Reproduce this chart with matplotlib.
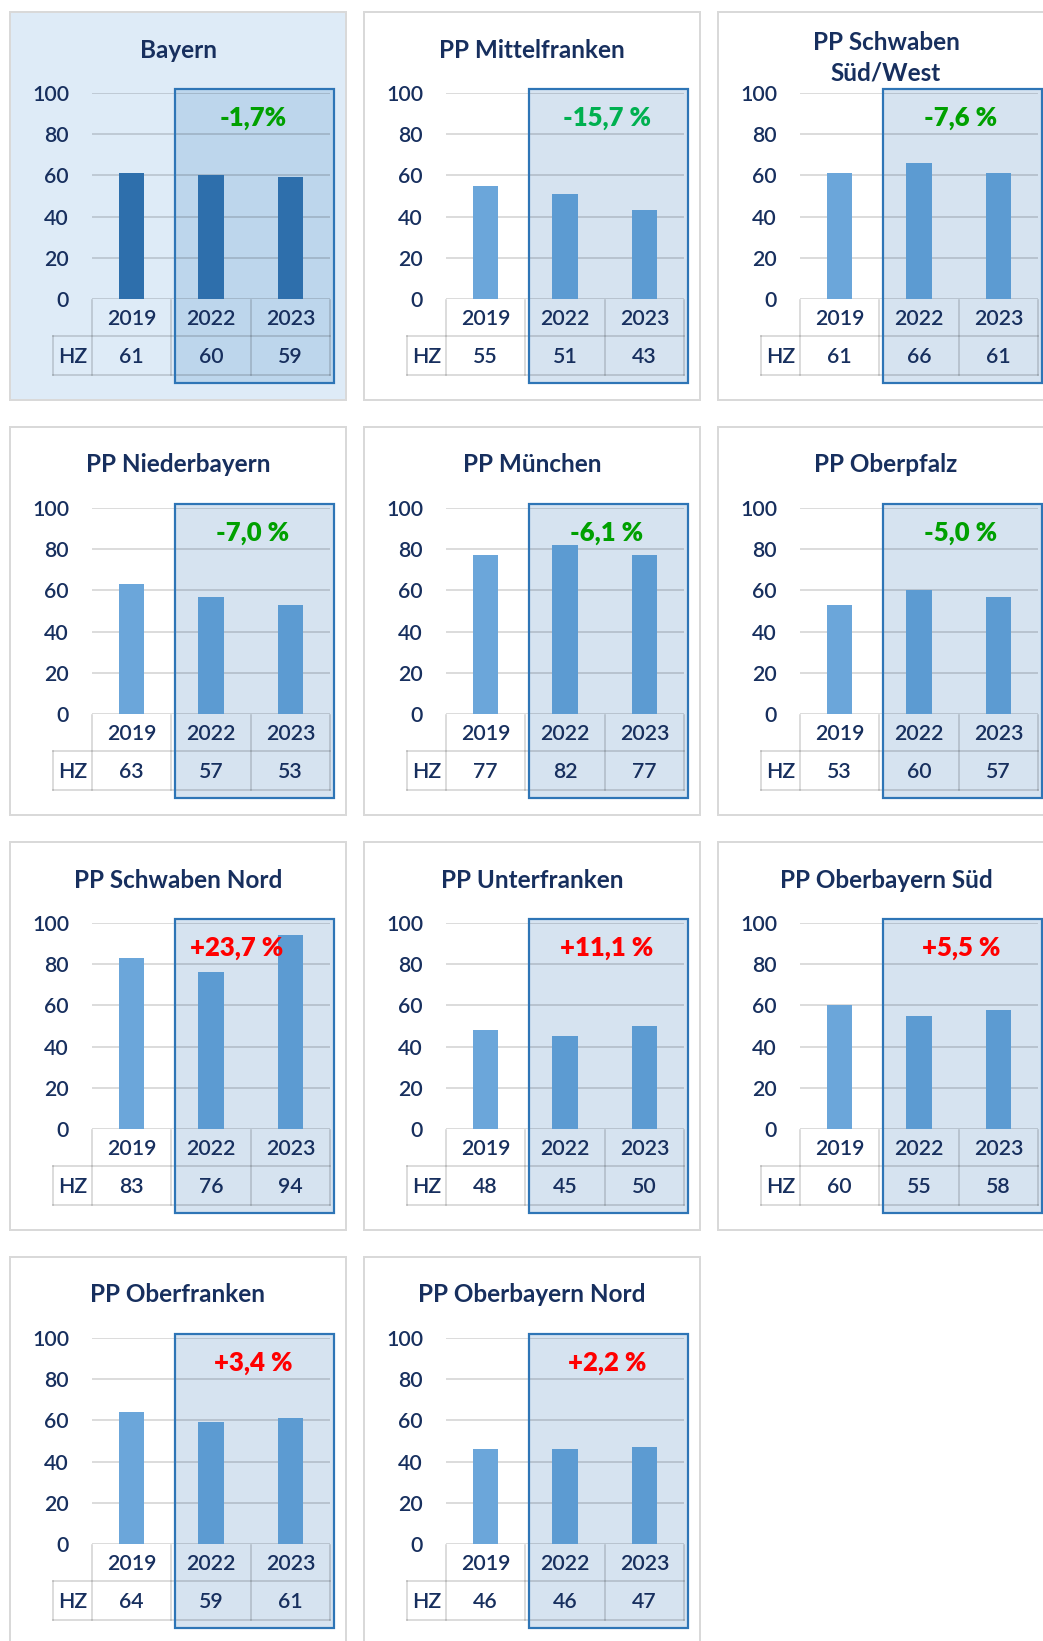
import matplotlib
matplotlib.use("Agg")
import matplotlib.pyplot as plt
from matplotlib.patches import Rectangle
from matplotlib.lines import Line2D
from matplotlib.transforms import Affine2D

# ---------------- data ----------------
titles = ["Bayern", "PP Mittelfranken", "PP Schwaben\nSüd/West",
          "PP Niederbayern", "PP München", "PP Oberpfalz",
          "PP Schwaben Nord", "PP Unterfranken", "PP Oberbayern Süd",
          "PP Oberfranken", "PP Oberbayern Nord"]
years = ["2019", "2022", "2023"]
hz_2019 = [61, 55, 61, 63, 77, 53, 83, 48, 60, 64, 46]
hz_2022 = [60, 51, 66, 57, 82, 60, 76, 45, 55, 59, 46]
hz_2023 = [59, 43, 61, 53, 77, 57, 94, 50, 58, 61, 47]
changes = ["-1,7%", "-15,7 %", "-7,6 %", "-7,0 %", "-6,1 %", "-5,0 %",
           "+23,7 %", "+11,1 %", "+5,5 %", "+3,4 %", "+2,2 %"]
change_colors = ["#00a000", "#00b050", "#00a000", "#00a000", "#00a000", "#00a000",
                 "#ff0000", "#ff0000", "#ff0000", "#ff0000", "#ff0000"]
yticks = [0, 20, 40, 60, 80, 100]
row_label = "HZ"

# ---------------- style ----------------
W, H = 1043, 1641
FONT = "Lato"
NAVY = "#172f5e"
TXT_W = "semibold"
fig = plt.figure(figsize=(W / 100, H / 100), dpi=100)
fig.patch.set_facecolor("white")
T = Affine2D().scale(1 / W, -1 / H).translate(0, 1) + fig.transFigure

PX = 0.72  # points per pixel
FS = 15.3

for i, title in enumerate(titles):
    row, col = divmod(i, 3)
    x0 = 10 + col * 354
    y0 = 12 + row * 415
    first = (i == 0)

    # panel background / border
    fig.add_artist(Rectangle((x0, y0), 336, 388, transform=T,
                             facecolor="#deebf7" if first else "white",
                             edgecolor="#d9d9d9", lw=2 * PX, zorder=-3))
    # highlight fill
    fig.add_artist(Rectangle((x0 + 164.5, y0 + 77), 159, 294, transform=T,
                             facecolor="#bdd6ec" if first else "#d6e3f0",
                             edgecolor="none", zorder=-2))

    # title
    ty = 46 if "\n" in title else 38
    fig.text((x0 + 168) / W, 1 - (y0 + ty) / H, title, ha="center", va="center",
             fontsize=17.5, fontweight="bold", color=NAVY, family=FONT,
             linespacing=1.4, zorder=5)

    # bar axes
    ax = fig.add_axes([(x0 + 82) / W, 1 - (y0 + 287) / H, 238 / W, 206 / H])
    ax.patch.set_visible(False)
    for s in ax.spines.values():
        s.set_visible(False)
    vals = [hz_2019[i], hz_2022[i], hz_2023[i]]
    cols = ["#2e6fac"] * 3 if first else ["#6ba6da", "#5c9bd2", "#5c9bd2"]
    ax.set_axisbelow(True)
    ax.bar(range(3), vals, width=0.32, color=cols, zorder=2)
    ax.set_xlim(-0.5, 2.5)
    ax.set_ylim(0, 100)
    ax.set_xticks([])
    ax.set_yticks(yticks)
    ax.set_yticklabels([str(t) for t in yticks], family=FONT, fontweight=TXT_W)
    ax.tick_params(axis="y", length=0, pad=16.5, labelsize=FS, labelcolor=NAVY)
    ax.yaxis.grid(True, color="#000000", alpha=0.17, lw=1.6 * PX)

    # percent label
    dx = -16 if i == 6 else 0
    fig.text((x0 + 243 + dx) / W, 1 - (y0 + 106) / H, changes[i], ha="center",
             va="center", fontsize=18.5, fontweight="heavy",
             color=change_colors[i], family=FONT, zorder=5)

    # table
    left, right = x0 + 82, x0 + 320
    cw = (right - left) / 3
    ytop, ymid, ybot = y0 + 288, y0 + 324, y0 + 363
    lw = 1.6 * PX
    segs = []
    for k in range(4):
        segs.append(((left + k * cw, left + k * cw), (ytop, ybot)))
    segs.append(((x0 + 43, right), (ymid, ymid)))
    segs.append(((x0 + 43, right), (ybot, ybot)))
    segs.append(((x0 + 43, x0 + 43), (ymid, ybot)))
    for xs, ys in segs:
        fig.add_artist(Line2D(xs, ys, transform=T, color="#000000", alpha=0.17,
                              lw=lw, zorder=1))
    for k in range(3):
        cx = left + (k + 0.5) * cw
        fig.text(cx / W, 1 - ((ytop + ymid) / 2 + 1) / H, years[k], ha="center",
                 va="center", fontsize=FS, color=NAVY, family=FONT,
                 fontweight=TXT_W, zorder=5)
        fig.text(cx / W, 1 - ((ymid + ybot) / 2 + 1.5) / H, str(vals[k]), ha="center",
                 va="center", fontsize=FS, color=NAVY, family=FONT,
                 fontweight=TXT_W, zorder=5)
    fig.text((x0 + 62.5) / W, 1 - ((ymid + ybot) / 2 + 1.5) / H, row_label, ha="center",
             va="center", fontsize=FS, color=NAVY, family=FONT,
             fontweight=TXT_W, zorder=5)

    # highlight border
    fig.add_artist(Rectangle((x0 + 164.5, y0 + 77), 159, 294, transform=T,
                             facecolor="none", edgecolor="#2e75b6",
                             lw=2.2 * PX, zorder=4))

fig.savefig("out.png", dpi=100, facecolor=fig.get_facecolor())
